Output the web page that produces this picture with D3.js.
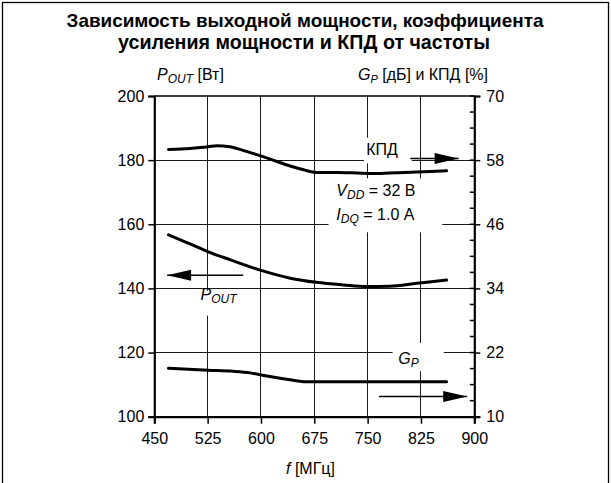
<!DOCTYPE html>
<html><head><meta charset="utf-8">
<script src="https://cdn.jsdelivr.net/npm/d3@7"></script>
<style>
body{margin:0;background:#fff}
svg{display:block}
text{font-family:"Liberation Sans",Arial,Helvetica,sans-serif;fill:#000}
</style>
</head><body><svg id="c" width="611" height="483"></svg>
<script>
// ---- data ----
const freqTicks = [450, 525, 600, 675, 750, 825, 900];
const poutTicks = [100, 120, 140, 160, 180, 200];
const rightMajor = [10, 22, 34, 46, 58, 70];
const rightMinor = [13, 16, 19, 25, 28, 31, 37, 40, 43, 49, 52, 55, 61, 64, 67];

const kpdFreq = [470, 500, 526, 538, 556, 585, 613, 641, 660, 678, 707, 735, 758, 781, 819, 861];
const kpdVal  = [60.0, 60.2, 60.5, 60.7, 60.5, 59.4, 58.2, 56.9, 56.2, 55.7, 55.7, 55.6, 55.5, 55.6, 55.8, 56.0];

const poutFreq = [470, 500, 526, 557, 599, 641, 678, 716, 749, 781, 819, 861];
const poutVal  = [156.7, 153.9, 151.4, 148.9, 145.7, 143.2, 141.9, 141.1, 140.6, 140.7, 141.6, 142.6];

const gpFreq = [470, 526, 561, 585, 608, 641, 660, 725, 861];
const gpVal  = [19.05, 18.7, 18.5, 18.2, 17.6, 16.9, 16.55, 16.55, 16.55];

const titleLines = ["Зависимость выходной мощности, коэффициента", "усиления мощности и КПД от частоты"];

// ---- layout ----
const svg = d3.select("#c");
const L = 154.3, R = 474.3, T = 96, B = 416.7;
const x = d3.scaleLinear().domain([450, 900]).range([L, R]);
const yL = d3.scaleLinear().domain([100, 200]).range([B, T]);
const yR = d3.scaleLinear().domain([10, 70]).range([B, T]);
const snap = v => Math.round(v - 0.5) + 0.5;

// frame
svg.append("rect").attr("x", 2.5).attr("y", 2.5).attr("width", 606).attr("height", 500)
  .attr("fill", "none").attr("stroke", "#000").attr("stroke-width", 1.3);

// title
function fitText(sel, target) {
  const w = sel.node().getComputedTextLength();
  const fs = parseFloat(sel.style("font-size"));
  sel.style("font-size", (fs * target / w) + "px");
}
const t1 = svg.append("text").attr("x", 305).attr("y", 27).attr("text-anchor", "middle")
  .style("font-weight", "bold").style("font-size", "16px").text(titleLines[0]);
fitText(t1, 477);
const t2 = svg.append("text").attr("x", 304).attr("y", 49).attr("text-anchor", "middle")
  .style("font-weight", "bold").style("font-size", "16px").text(titleLines[1]);
fitText(t2, 372);

// grid
const g = svg.append("g");
g.selectAll(".vg").data(freqTicks.slice(1, -1)).enter().append("line")
  .attr("x1", d => snap(x(d))).attr("x2", d => snap(x(d))).attr("y1", T).attr("y2", B)
  .attr("stroke", "#1a1a1a").attr("stroke-width", 1);
g.selectAll(".hg").data(poutTicks.slice(1, -1)).enter().append("line")
  .attr("x1", L).attr("x2", R).attr("y1", d => snap(yL(d))).attr("y2", d => snap(yL(d)))
  .attr("stroke", "#1a1a1a").attr("stroke-width", 1);

// white label boxes (cut grid)
function box(x0, y0, x1, y1) {
  svg.append("rect").attr("x", x0).attr("y", y0).attr("width", x1 - x0).attr("height", y1 - y0).attr("fill", "#fff");
}
box(x(745), yL(187), x(812), yL(179));      // КПД
box(x(695), yR(54.6), x(855), yR(44.5));     // VDD / IDQ
box(x(503), yL(139.3), x(578), yL(131.5));   // POUT
box(x(785), yR(23.8), x(857), yR(18.5));     // GP

// curves
const line = d3.line().curve(d3.curveMonotoneX);
svg.append("path").attr("d", line(kpdFreq.map((f, i) => [x(f), yR(kpdVal[i])])))
  .attr("fill", "none").attr("stroke", "#000").attr("stroke-width", 3).attr("stroke-linecap", "round");
svg.append("path").attr("d", line(poutFreq.map((f, i) => [x(f), yL(poutVal[i])])))
  .attr("fill", "none").attr("stroke", "#000").attr("stroke-width", 3).attr("stroke-linecap", "round");
svg.append("path").attr("d", line(gpFreq.map((f, i) => [x(f), yR(gpVal[i])])))
  .attr("fill", "none").attr("stroke", "#000").attr("stroke-width", 3).attr("stroke-linecap", "round");

// axes
const fs = "16px";
svg.append("line").attr("x1", L).attr("x2", R).attr("y1", T).attr("y2", T).attr("stroke", "#000").attr("stroke-width", 1.5);

const leftAxis = svg.append("g").attr("transform", `translate(${L},0)`)
  .call(d3.axisLeft(yL).tickValues(poutTicks).tickSize(6).tickPadding(4));
const rightAxis = svg.append("g").attr("transform", `translate(${R},0)`)
  .call(d3.axisRight(yR).tickValues(rightMajor).tickSize(6).tickPadding(6));
const bottomAxis = svg.append("g").attr("transform", `translate(0,${B})`)
  .call(d3.axisBottom(x).tickValues(freqTicks).tickSize(7).tickPadding(9));
[leftAxis, rightAxis, bottomAxis].forEach(a => {
  a.select(".domain").attr("stroke", "#000").attr("stroke-width", 2.2);
  a.selectAll(".tick line").attr("stroke", "#000").attr("stroke-width", 1.5);
  a.selectAll(".tick text").style("font-size", fs).style("font-family", '"Liberation Sans",Arial,sans-serif');
});
svg.append("g").selectAll("line").data(rightMajor.concat(rightMinor)).enter().append("line")
  .attr("x1", R - 4.5).attr("x2", R).attr("y1", d => yR(d)).attr("y2", d => yR(d))
  .attr("stroke", "#000").attr("stroke-width", 1.5);

// axis titles
const at1 = svg.append("text").attr("x", 157).attr("y", 80).style("font-size", "16px");
at1.append("tspan").style("font-style", "italic").text("P");
at1.append("tspan").style("font-style", "italic").style("font-size", "12px").attr("dy", 3).text("OUT");
at1.append("tspan").attr("dy", -3).text(" [Вт]");

const at2 = svg.append("text").attr("x", 358).attr("y", 80).style("font-size", "16px");
at2.append("tspan").style("font-style", "italic").text("G");
at2.append("tspan").style("font-style", "italic").style("font-size", "11px").attr("dy", 3).text("P");
at2.append("tspan").attr("dy", -3).text(" [дБ] и КПД [%]");

const xt = svg.append("text").attr("x", 286).attr("y", 474).style("font-size", "16px");
xt.append("tspan").style("font-style", "italic").text("f");
xt.append("tspan").text("  [МГц]");

// annotations
function arrow(xa, xb, yy, dir) {
  svg.append("line").attr("x1", xa).attr("x2", xb).attr("y1", yy).attr("y2", yy)
    .attr("stroke", "#000").attr("stroke-width", 1.5);
  const tip = dir > 0 ? xb : xa, base = tip - dir * 24;
  svg.append("path").attr("d", `M${tip},${yy}L${base},${yy - 5.5}L${base},${yy + 5.5}Z`).attr("fill", "#000");
}
svg.append("text").attr("x", x(748)).attr("y", yR(58.9)).style("font-size", "16px").text("КПД");
arrow(x(810), x(878), yR(58.3), 1);

const v1 = svg.append("text").attr("x", x(706)).attr("y", yL(168.7)).style("font-size", "16px");
v1.append("tspan").style("font-style", "italic").text("V");
v1.append("tspan").style("font-style", "italic").style("font-size", "12px").attr("dy", 3).text("DD");
v1.append("tspan").attr("dy", -3).text(" = 32 В");
const v2 = svg.append("text").attr("x", x(706)).attr("y", yL(161.3)).style("font-size", "16px");
v2.append("tspan").style("font-style", "italic").text("I");
v2.append("tspan").style("font-style", "italic").style("font-size", "12px").attr("dy", 3).text("DQ");
v2.append("tspan").attr("dy", -3).text(" = 1.0 А");

const p1 = svg.append("text").attr("x", x(515)).attr("y", yL(136.3)).style("font-size", "16px");
p1.append("tspan").style("font-style", "italic").text("P");
p1.append("tspan").style("font-style", "italic").style("font-size", "12px").attr("dy", 3).text("OUT");
arrow(x(468), x(575), yL(144.1), -1);

const gp = svg.append("text").attr("x", x(793)).attr("y", yR(19.8)).style("font-size", "16px");
gp.append("tspan").style("font-style", "italic").text("G");
gp.append("tspan").style("font-style", "italic").style("font-size", "12px").attr("dy", 3).text("P");
arrow(x(766), x(890), yR(13.8), 1);
</script>
</body></html>
